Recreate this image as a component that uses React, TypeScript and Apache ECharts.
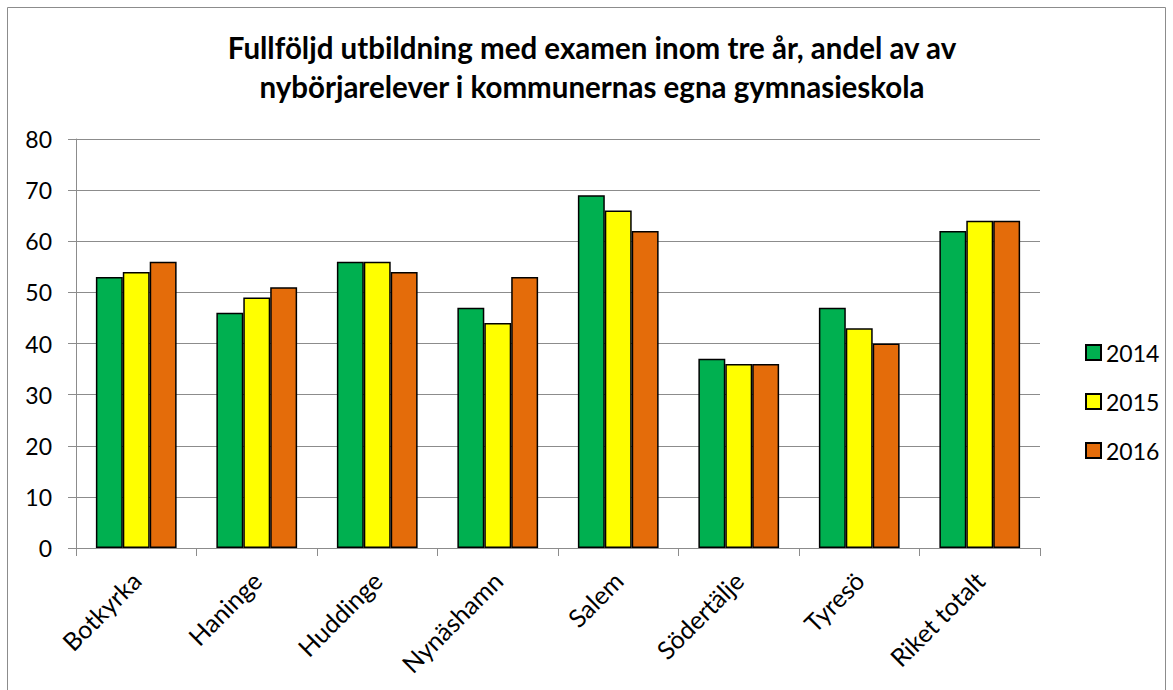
import React, { useEffect, useRef } from "react";
import * as echarts from "echarts";

const categories = ["Botkyrka", "Haninge", "Huddinge", "Nynäshamn", "Salem", "Södertälje", "Tyresö", "Riket totalt"];
const s2014 = [53, 46, 56, 47, 69, 37, 47, 62];
const s2015 = [54, 49, 56, 44, 66, 36, 43, 64];
const s2016 = [56, 51, 54, 53, 62, 36, 40, 64];
const seriesNames = ["2014", "2015", "2016"];
const colors = ["#00B050", "#FFFF00", "#E46C0A"];
const titleText = "Fullföljd utbildning med examen inom tre år, andel av av\nnybörjarelever i kommunernas egna gymnasieskola";

export default function App() {
  const ref = useRef<HTMLDivElement>(null);
  useEffect(() => {
    const chart = echarts.init(ref.current!, null, { renderer: "svg" });
    const font = "Lato, 'Noto Sans', sans-serif";
    const data = [s2014, s2015, s2016];
    chart.setOption({
      animation: false,
      backgroundColor: "#fff",
      textStyle: { fontFamily: font },
      title: {
        text: titleText,
        left: 587,
        top: 23,
        textAlign: "center",
        textStyle: { fontSize: 29.5, fontWeight: "bold", color: "#000", lineHeight: 39, fontFamily: font },
      },
      graphic: [
        {
          type: "rect",
          shape: { x: 7.5, y: 7.5, width: 1158, height: 700 },
          style: { fill: "none", stroke: "#8c8c8c", lineWidth: 1 },
          silent: true,
        },
      ],
      legend: {
        orient: "vertical",
        left: 1080,
        top: 336,
        itemWidth: 15,
        itemHeight: 15,
        itemGap: 26,
        icon: "rect",
        textStyle: { fontSize: 23, color: "#000", fontFamily: font, padding: [0, 0, 0, 0] },
        data: seriesNames,
      },
      grid: { left: 76, top: 139, right: 133, bottom: 142, containLabel: false },
      xAxis: {
        type: "category",
        data: categories,
        axisLine: { lineStyle: { color: "#8c8c8c", width: 1 } },
        axisTick: { show: true, length: 8, lineStyle: { color: "#8c8c8c" } },
        axisLabel: { rotate: 45, fontSize: 25, color: "#000", margin: 28, interval: 0, fontFamily: font },
      },
      yAxis: {
        type: "value",
        min: 0,
        max: 80,
        interval: 10,
        axisLine: { show: true, lineStyle: { color: "#8c8c8c", width: 1 } },
        axisTick: { show: true, length: 8, lineStyle: { color: "#8c8c8c" } },
        axisLabel: { fontSize: 23, color: "#000", margin: 24, fontFamily: font },
        splitLine: { lineStyle: { color: "#8c8c8c", width: 1 } },
      },
      series: seriesNames.map((name, i) => ({
        name,
        type: "bar",
        data: data[i],
        barGap: "0%",
        barCategoryGap: "33%",
        itemStyle: { color: colors[i], borderColor: "#000", borderWidth: 1.5 },
      })),
    });
    return () => chart.dispose();
  }, []);
  return (
    <div
      ref={ref}
      style={{ position: "absolute", left: 0, top: 0, width: 1173, height: 690 }}
    />
  );
}
